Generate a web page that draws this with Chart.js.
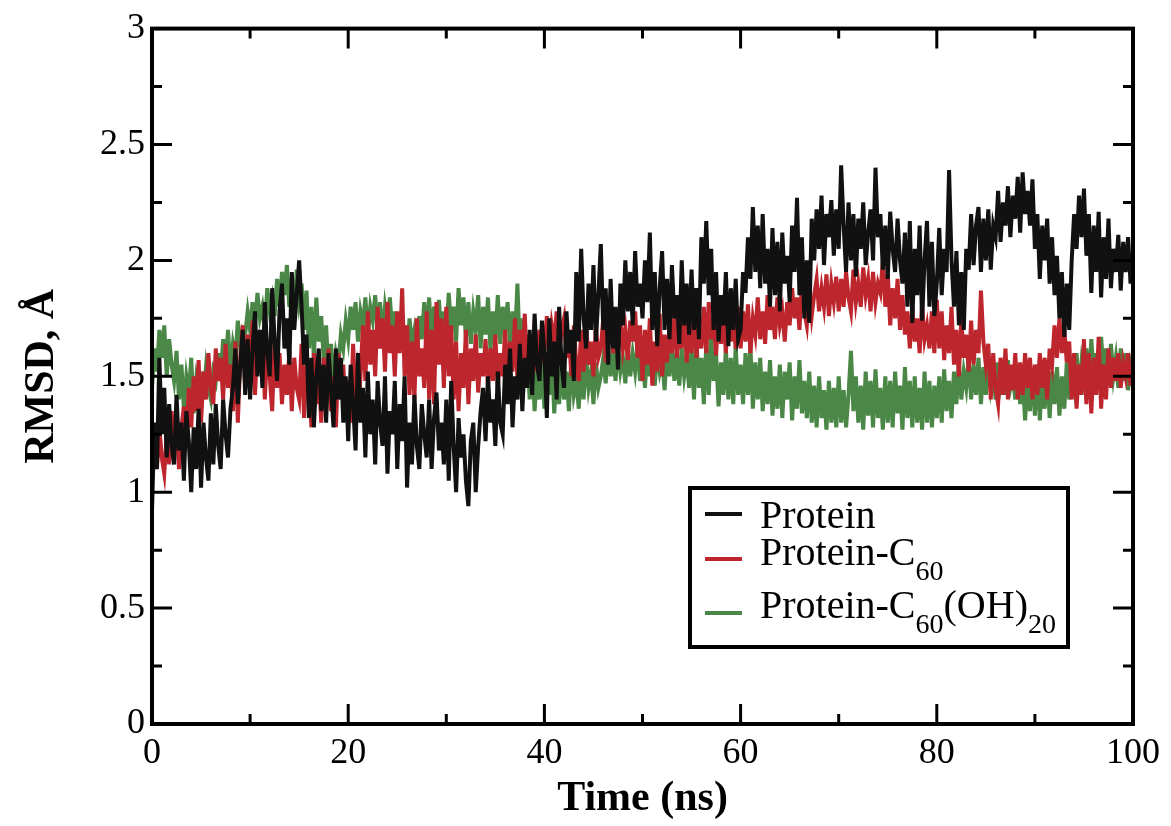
<!DOCTYPE html>
<html>
<head>
<meta charset="utf-8">
<script src="https://cdn.jsdelivr.net/npm/chart.js@4.4.1/dist/chart.umd.min.js"></script>
<style>
  html, body { margin: 0; padding: 0; background: #fff; }
  canvas { display: block; }
</style>
</head>
<body>
<canvas id="rmsdChart" width="1171" height="826"></canvas>
<script>
// trajectories are read every 0.25 ns, from 0 to 100 ns (20 values per row = 5 ns)
const timeStep = 0.25;

// RMSD (Angstrom), Protein alone
const protein = [
  0.92, 1.30, 1.10, 1.58, 1.25, 1.45, 1.15, 1.38, 1.20, 1.12, 1.42, 1.18, 1.30, 1.05, 1.35, 1.22, 1.00, 1.28, 1.10, 1.36,
  1.02, 1.30, 1.15, 1.05, 1.34, 1.12, 1.38, 1.20, 1.10, 1.40, 1.25, 1.15, 1.36, 1.45, 1.62, 1.38, 1.55, 1.70, 1.42, 1.66,
  1.40, 1.62, 1.78, 1.50, 1.70, 1.45, 1.82, 1.60, 1.50, 1.88, 1.65, 1.48, 1.78, 1.90, 1.62, 1.75, 1.55, 1.95, 1.70, 1.85,
  2.00, 1.80, 1.55, 1.68, 1.32, 1.58, 1.28, 1.50, 1.62, 1.35, 1.55, 1.30, 1.60, 1.45, 1.28, 1.62, 1.40, 1.58, 1.30, 1.50,
  1.22, 1.55, 1.38, 1.18, 1.60, 1.30, 1.45, 1.15, 1.52, 1.25, 1.40, 1.12, 1.48, 1.30, 1.20, 1.50, 1.08, 1.35, 1.25, 1.48,
  1.10, 1.38, 1.22, 1.50, 1.02, 1.30, 1.12, 1.42, 1.20, 1.10, 1.38, 1.25, 1.15, 1.40, 1.10, 1.32, 1.43, 1.18, 1.30, 1.12,
  1.40, 1.05, 1.48, 1.20, 1.00, 1.32, 1.15, 1.25, 1.05, 0.94, 1.22, 1.30, 1.00, 1.20, 1.35, 1.45, 1.22, 1.50, 1.30, 1.40,
  1.20, 1.52, 1.30, 1.25, 1.55, 1.38, 1.62, 1.28, 1.50, 1.40, 1.64, 1.35, 1.58, 1.45, 1.70, 1.42, 1.77, 1.55, 1.48, 1.74,
  1.60, 1.32, 1.75, 1.50, 1.65, 1.40, 1.80, 1.55, 1.45, 1.78, 1.60, 1.70, 1.48, 1.95, 1.65, 2.05, 1.75, 1.62, 1.90, 1.70,
  1.98, 1.65, 1.85, 2.07, 1.70, 1.88, 1.55, 1.92, 1.62, 1.80, 1.53, 1.90, 1.72, 2.00, 1.78, 1.95, 1.72, 2.04, 1.80, 1.90,
  1.75, 2.00, 1.82, 2.12, 1.70, 1.95, 1.63, 1.88, 2.04, 1.70, 1.92, 1.66, 1.98, 1.75, 1.85, 1.64, 2.00, 1.72, 1.90, 1.68,
  1.96, 1.70, 1.88, 1.66, 2.10, 1.90, 2.17, 1.85, 2.05, 1.70, 1.95, 1.65, 1.85, 1.72, 1.95, 1.63, 1.88, 1.70, 1.92, 1.66,
  1.70, 1.95, 1.86, 2.10, 1.92, 2.23, 1.95, 2.15, 1.88, 2.20, 1.90, 2.05, 1.80, 2.14, 1.85, 2.08, 1.78, 2.12, 1.90, 2.02,
  1.82, 2.15, 1.95, 2.27, 1.85, 2.10, 1.75, 2.00, 1.73, 2.18, 2.00, 2.22, 2.05, 2.28, 1.98, 2.20, 2.10, 2.26, 2.02, 2.22,
  2.05, 2.41, 2.15, 1.95, 2.25, 2.00, 2.20, 1.93, 2.18, 2.05, 2.25, 1.98, 2.12, 2.22, 2.00, 2.40, 2.10, 2.20, 1.96, 2.15,
  1.92, 2.21, 2.05, 1.95, 2.18, 2.00, 1.90, 2.12, 1.80, 2.17, 1.73, 2.05, 1.85, 2.15, 1.74, 2.00, 2.17, 1.80, 2.08, 1.76,
  1.90, 2.14, 1.85, 2.05, 1.95, 2.39, 2.00, 1.80, 2.04, 1.72, 1.95, 1.70, 2.05, 1.96, 2.20, 1.98, 2.15, 2.23, 1.95, 2.18,
  2.00, 2.22, 1.96, 2.15, 2.10, 2.30, 2.08, 2.25, 2.15, 2.32, 2.10, 2.28, 2.18, 2.36, 2.12, 2.38, 2.20, 2.30, 2.15, 2.35,
  2.05, 2.20, 1.92, 2.15, 2.00, 2.18, 1.90, 2.10, 1.85, 2.02, 1.75, 1.95, 1.67, 1.90, 1.70, 2.00, 2.20, 2.05, 2.28, 2.10,
  2.31, 2.02, 2.20, 1.86, 2.15, 1.95, 2.21, 1.84, 2.10, 1.92, 2.18, 1.88, 2.05, 1.95, 2.11, 1.87, 2.08, 1.95, 2.10, 1.90,
  2.02
];

// Protein-C60
const proteinC60 = [
  1.05, 1.22, 1.10, 1.28, 1.15, 1.08, 1.25, 1.12, 1.35, 1.18, 1.30, 1.10, 1.28, 1.37, 1.22, 1.45, 1.28, 1.50, 1.35, 1.57,
  1.30, 1.52, 1.40, 1.60, 1.45, 1.38, 1.62, 1.48, 1.58, 1.40, 1.64, 1.45, 1.55, 1.35, 1.65, 1.30, 1.58, 1.72, 1.45, 1.68,
  1.50, 1.74, 1.42, 1.65, 1.55, 1.70, 1.40, 1.62, 1.50, 1.35, 1.66, 1.45, 1.60, 1.38, 1.55, 1.42, 1.61, 1.35, 1.58, 1.45,
  1.40, 1.64, 1.32, 1.55, 1.45, 1.28, 1.60, 1.38, 1.52, 1.30, 1.58, 1.42, 1.62, 1.35, 1.50, 1.28, 1.60, 1.40, 1.55, 1.32,
  1.48, 1.30, 1.64, 1.38, 1.55, 1.50, 1.72, 1.48, 1.78, 1.55, 1.70, 1.50, 1.80, 1.62, 1.75, 1.52, 1.82, 1.60, 1.72, 1.50,
  1.78, 1.60, 1.88, 1.50, 1.72, 1.42, 1.65, 1.40, 1.75, 1.50, 1.62, 1.45, 1.78, 1.40, 1.70, 1.38, 1.82, 1.55, 1.75, 1.45,
  1.80, 1.50, 1.72, 1.40, 1.65, 1.35, 1.60, 1.45, 1.70, 1.38, 1.62, 1.48, 1.68, 1.43, 1.60, 1.50, 1.66, 1.45, 1.62, 1.48,
  1.68, 1.45, 1.60, 1.50, 1.70, 1.47, 1.65, 1.52, 1.75, 1.48, 1.70, 1.55, 1.77, 1.50, 1.68, 1.56, 1.74, 1.52, 1.70, 1.58,
  1.62, 1.76, 1.58, 1.72, 1.65, 1.78, 1.60, 1.70, 1.75, 1.58, 1.68, 1.50, 1.72, 1.55, 1.48, 1.70, 1.52, 1.74, 1.55, 1.65,
  1.50, 1.72, 1.58, 1.62, 1.75, 1.56, 1.70, 1.78, 1.60, 1.72, 1.58, 1.76, 1.62, 1.70, 1.57, 1.74, 1.65, 1.78, 1.58, 1.72,
  1.48, 1.70, 1.55, 1.75, 1.46, 1.65, 1.52, 1.77, 1.50, 1.68, 1.56, 1.72, 1.60, 1.76, 1.58, 1.70, 1.62, 1.80, 1.56, 1.74,
  1.60, 1.78, 1.58, 1.72, 1.62, 1.80, 1.60, 1.82, 1.66, 1.74, 1.59, 1.80, 1.64, 1.76, 1.60, 1.82, 1.65, 1.75, 1.62, 1.80,
  1.62, 1.78, 1.65, 1.81, 1.60, 1.75, 1.68, 1.84, 1.66, 1.78, 1.64, 1.85, 1.70, 1.80, 1.66, 1.84, 1.72, 1.78, 1.65, 1.82,
  1.72, 1.88, 1.75, 1.84, 1.70, 1.90, 1.78, 1.72, 1.88, 1.76, 1.85, 1.92, 1.78, 1.88, 1.80, 1.94, 1.76, 1.90, 1.82, 1.93,
  1.78, 1.92, 1.80, 1.95, 1.84, 1.78, 1.96, 1.82, 1.90, 1.80, 1.97, 1.85, 1.92, 1.78, 1.95, 1.82, 1.90, 1.86, 2.00, 1.80,
  1.94, 1.72, 1.88, 1.75, 1.92, 1.70, 1.85, 1.68, 1.78, 1.62, 1.80, 1.65, 1.75, 1.60, 1.81, 1.66, 1.72, 1.62, 1.78, 1.60,
  1.83, 1.62, 1.78, 1.57, 1.72, 1.60, 1.80, 1.55, 1.70, 1.50, 1.75, 1.58, 1.68, 1.52, 1.74, 1.55, 1.70, 1.60, 1.87, 1.65,
  1.55, 1.64, 1.40, 1.60, 1.45, 1.38, 1.58, 1.42, 1.62, 1.40, 1.55, 1.44, 1.60, 1.40, 1.56, 1.42, 1.60, 1.45, 1.58, 1.40,
  1.55, 1.42, 1.60, 1.45, 1.58, 1.40, 1.62, 1.55, 1.72, 1.58, 1.75, 1.60, 1.70, 1.56, 1.65, 1.40, 1.60, 1.36, 1.55, 1.42,
  1.66, 1.38, 1.60, 1.34, 1.58, 1.42, 1.67, 1.36, 1.55, 1.40, 1.62, 1.45, 1.58, 1.48, 1.60, 1.45, 1.56, 1.50, 1.60, 1.46,
  1.55
];

// Protein-C60(OH)20
const proteinC60OH = [
  1.45, 1.62, 1.52, 1.70, 1.58, 1.72, 1.50, 1.66, 1.55, 1.48, 1.61, 1.40, 1.55, 1.36, 1.50, 1.42, 1.58, 1.34, 1.48, 1.40,
  1.52, 1.42, 1.54, 1.45, 1.40, 1.52, 1.48, 1.60, 1.50, 1.66, 1.55, 1.70, 1.52, 1.64, 1.58, 1.74, 1.62, 1.70, 1.68, 1.78,
  1.70, 1.82, 1.72, 1.86, 1.75, 1.80, 1.70, 1.88, 1.78, 1.84, 1.76, 1.92, 1.80, 1.95, 1.85, 1.98, 1.80, 1.92, 1.78, 1.96,
  1.82, 1.90, 1.70, 1.87, 1.62, 1.80, 1.58, 1.84, 1.65, 1.76, 1.57, 1.72, 1.50, 1.64, 1.48, 1.60, 1.55, 1.68, 1.62, 1.74,
  1.66, 1.80, 1.70, 1.82, 1.65, 1.78, 1.72, 1.84, 1.68, 1.80, 1.74, 1.85, 1.70, 1.82, 1.66, 1.80, 1.72, 1.84, 1.68, 1.78,
  1.60, 1.77, 1.62, 1.72, 1.57, 1.75, 1.64, 1.70, 1.60, 1.76, 1.66, 1.82, 1.68, 1.84, 1.65, 1.80, 1.70, 1.83, 1.66, 1.78,
  1.68, 1.86, 1.70, 1.80, 1.65, 1.88, 1.72, 1.84, 1.66, 1.82, 1.64, 1.78, 1.70, 1.85, 1.62, 1.80, 1.68, 1.84, 1.61, 1.78,
  1.66, 1.85, 1.64, 1.80, 1.70, 1.82, 1.62, 1.78, 1.66, 1.90, 1.60, 1.75, 1.55, 1.62, 1.40, 1.57, 1.35, 1.52, 1.40, 1.56,
  1.36, 1.55, 1.42, 1.60, 1.34, 1.50, 1.38, 1.56, 1.40, 1.52, 1.35, 1.58, 1.42, 1.48, 1.36, 1.55, 1.40, 1.59, 1.45, 1.52,
  1.38, 1.56, 1.45, 1.50, 1.58, 1.47, 1.62, 1.50, 1.60, 1.48, 1.63, 1.52, 1.58, 1.47, 1.62, 1.50, 1.60, 1.52, 1.63, 1.48,
  1.58, 1.45, 1.62, 1.50, 1.64, 1.46, 1.60, 1.52, 1.58, 1.44, 1.62, 1.50, 1.64, 1.48, 1.60, 1.46, 1.62, 1.50, 1.58, 1.45,
  1.62, 1.40, 1.66, 1.45, 1.58, 1.38, 1.64, 1.42, 1.67, 1.48, 1.60, 1.37, 1.56, 1.42, 1.62, 1.40, 1.58, 1.38, 1.63, 1.42,
  1.55, 1.38, 1.60, 1.42, 1.63, 1.36, 1.56, 1.40, 1.58, 1.35, 1.52, 1.38, 1.57, 1.33, 1.50, 1.36, 1.55, 1.32, 1.52, 1.40,
  1.56, 1.31, 1.50, 1.36, 1.57, 1.34, 1.48, 1.32, 1.52, 1.30, 1.46, 1.28, 1.50, 1.32, 1.44, 1.27, 1.48, 1.30, 1.45, 1.28,
  1.50, 1.30, 1.44, 1.28, 1.42, 1.61, 1.35, 1.50, 1.30, 1.46, 1.27, 1.52, 1.33, 1.48, 1.28, 1.53, 1.32, 1.45, 1.27, 1.50,
  1.30, 1.48, 1.28, 1.52, 1.34, 1.46, 1.27, 1.54, 1.32, 1.48, 1.28, 1.50, 1.30, 1.45, 1.27, 1.52, 1.30, 1.48, 1.28, 1.46,
  1.32, 1.50, 1.30, 1.53, 1.35, 1.48, 1.32, 1.52, 1.38, 1.56, 1.40, 1.52, 1.45, 1.58, 1.40, 1.55, 1.42, 1.58, 1.38, 1.54,
  1.42, 1.58, 1.45, 1.52, 1.40, 1.56, 1.46, 1.52, 1.42, 1.57, 1.45, 1.50, 1.40, 1.55, 1.38, 1.50, 1.31, 1.48, 1.35, 1.52,
  1.33, 1.55, 1.31, 1.50, 1.36, 1.57, 1.32, 1.52, 1.38, 1.54, 1.33, 1.50, 1.36, 1.56, 1.40, 1.52, 1.45, 1.60, 1.43, 1.56,
  1.48, 1.62, 1.45, 1.66, 1.50, 1.60, 1.47, 1.67, 1.52, 1.62, 1.46, 1.64, 1.50, 1.58, 1.45, 1.62, 1.48, 1.60, 1.44, 1.56,
  1.52
];

const xTicks = [0, 20, 40, 60, 80, 100];
const yTicks = [0, 0.5, 1, 1.5, 2, 2.5, 3];

function toPoints(values) {
  return values.map((v, i) => ({ x: i * timeStep, y: v }));
}

// legend text pieces, sub = subscript
const legendItems = [
  [{ t: 'Protein' }],
  [{ t: 'Protein-C' }, { t: '60', sub: true }],
  [{ t: 'Protein-C' }, { t: '60', sub: true }, { t: '(OH)' }, { t: '20', sub: true }]
];

// frame with inward ticks on all 4 sides + boxed legend
const framePlugin = {
  id: 'frame',
  afterDatasetsDraw(chart) {
    const { ctx, chartArea: a, scales: { x, y } } = chart;
    ctx.save();
    ctx.strokeStyle = '#000';
    ctx.lineWidth = 3;
    ctx.lineCap = 'butt';
    ctx.beginPath();
    for (let v = 0; v <= 100; v += 10) {
      const px = x.getPixelForValue(v);
      const len = v % 20 === 0 ? 20 : 10;
      ctx.moveTo(px, a.bottom); ctx.lineTo(px, a.bottom - len);
      ctx.moveTo(px, a.top); ctx.lineTo(px, a.top + len);
    }
    for (let k = 0; k <= 12; k++) {
      const py = y.getPixelForValue(k * 0.25);
      const len = k % 2 === 0 ? 20 : 10;
      ctx.moveTo(a.left, py); ctx.lineTo(a.left + len, py);
      ctx.moveTo(a.right, py); ctx.lineTo(a.right - len, py);
    }
    ctx.stroke();
    ctx.lineWidth = 4;
    ctx.strokeRect(a.left, a.top, a.width, a.height);

    // legend
    ctx.fillStyle = '#fff';
    ctx.fillRect(690, 488, 378, 159);
    ctx.strokeRect(690, 488, 378, 159);
    const rowsBase = [528, 565, 618];
    const rowsLine = [514, 559, 613];
    legendItems.forEach((parts, i) => {
      ctx.strokeStyle = chart.data.datasets[i].borderColor;
      ctx.lineWidth = 4;
      ctx.beginPath();
      ctx.moveTo(705, rowsLine[i]); ctx.lineTo(742, rowsLine[i]);
      ctx.stroke();
      ctx.fillStyle = '#000';
      ctx.textBaseline = 'alphabetic';
      let tx = 760;
      parts.forEach(p => {
        ctx.font = p.sub ? '28px "Liberation Serif"' : '40px "Liberation Serif"';
        ctx.fillText(p.t, tx, rowsBase[i] + (p.sub ? 15 : 0));
        tx += ctx.measureText(p.t).width;
      });
    });
    ctx.restore();
  }
};

new Chart(document.getElementById('rmsdChart'), {
  type: 'line',
  data: {
    datasets: [
      { label: 'Protein', data: toPoints(protein), borderColor: '#111111', borderWidth: 4 },
      { label: 'Protein-C60', data: toPoints(proteinC60), borderColor: '#be262d', borderWidth: 4 },
      { label: 'Protein-C60(OH)20', data: toPoints(proteinC60OH), borderColor: '#4b8746', borderWidth: 4 }
    ]
  },
  options: {
    responsive: false,
    animation: false,
    events: [],
    elements: { point: { radius: 0 }, line: { tension: 0 } },
    layout: { padding: { top: 22, right: 38, left: 0, bottom: 0 } },
    plugins: { legend: { display: false }, tooltip: { enabled: false } },
    scales: {
      x: {
        type: 'linear', min: 0, max: 100,
        afterFit: s => { s.height = 102; },
        afterBuildTicks: s => { s.ticks = xTicks.map(v => ({ value: v })); },
        grid: { display: false, drawTicks: false },
        border: { display: false },
        ticks: { color: '#000', padding: 8, maxRotation: 0, font: { family: 'Liberation Serif', size: 36 } },
        title: { display: true, text: 'Time (ns)', color: '#000', padding: { top: 0, bottom: 2 },
                 font: { family: 'Liberation Serif', size: 42, weight: 'bold' } }
      },
      y: {
        type: 'linear', min: 0, max: 3,
        afterFit: s => { s.width = 152; },
        afterBuildTicks: s => { s.ticks = yTicks.map(v => ({ value: v })); },
        grid: { display: false, drawTicks: false },
        border: { display: false },
        ticks: { color: '#000', padding: 7, font: { family: 'Liberation Serif', size: 36 },
                 callback: v => String(v) },
        title: { display: true, text: 'RMSD, Å', color: '#000', padding: { top: 17, bottom: 0 },
                 font: { family: 'Liberation Serif', size: 42, weight: 'bold' } }
      }
    }
  },
  plugins: [framePlugin]
});
</script>
</body>
</html>
